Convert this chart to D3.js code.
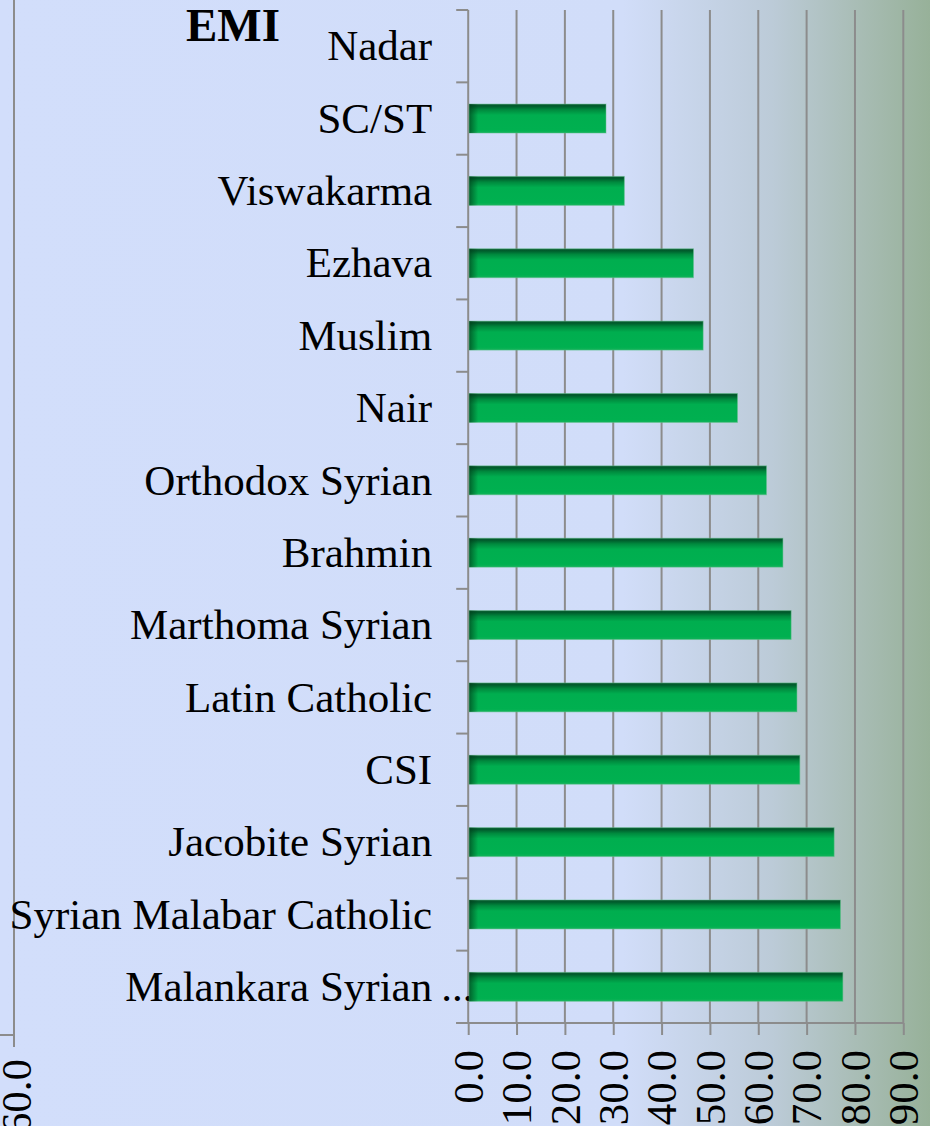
<!DOCTYPE html>
<html><head><meta charset="utf-8">
<script src="https://cdn.jsdelivr.net/npm/d3@7"></script>
<style>html,body{margin:0;padding:0;overflow:hidden;background:#d2defb}svg{display:block}</style>
</head><body>
<script>
const title = "EMI";
const categories = ["Nadar","SC/ST","Viswakarma","Ezhava","Muslim","Nair","Orthodox Syrian","Brahmin","Marthoma Syrian","Latin Catholic","CSI","Jacobite Syrian","Syrian Malabar Catholic","Malankara Syrian..."];
const values = [0, 28.5, 32.3, 46.6, 48.6, 55.7, 61.7, 65.1, 66.8, 68.0, 68.6, 75.7, 77.0, 77.5];
const xTicks = [0,10,20,30,40,50,60,70,80,90];
const leftTickLabels = ["60.0"];

const W = 930, H = 1126;
const FONT = "Liberation Serif";
const FS = "43px";
const svg = d3.select("body").append("svg").attr("width", W).attr("height", H);
const defs = svg.append("defs");

const bg = defs.append("linearGradient").attr("id","bg").attr("x1",0).attr("x2",1).attr("y1",0).attr("y2",0);
[[0,"#d2defb"],[0.67,"#d1ddf9"],[0.83,"#bccbd8"],[0.92,"#a9bdb6"],[1,"#97b199"]].forEach(s=>bg.append("stop").attr("offset",s[0]).attr("stop-color",s[1]));
svg.append("rect").attr("width",W).attr("height",H).attr("fill","url(#bg)");

const bv = defs.append("linearGradient").attr("id","barV").attr("x1",0).attr("x2",0).attr("y1",0).attr("y2",1);
[[0,"#0b5a30"],[0.07,"#005c2c"],[0.2,"#008a3e"],[0.38,"#00ae4f"],[0.9,"#00b050"],[1,"#12b35a"]].forEach(s=>bv.append("stop").attr("offset",s[0]).attr("stop-color",s[1]));

const x = d3.scaleLinear().domain([0,90]).range([468.2,903.3]);
const y = d3.scaleBand().domain(categories).range([10,1023]).padding(0);
const yBottom = y.range()[1];

const bh = defs.append("linearGradient").attr("id","barH").attr("gradientUnits","userSpaceOnUse")
  .attr("x1",x(0)).attr("x2",x(0)+10).attr("y1",0).attr("y2",0);
bh.append("stop").attr("offset",0).attr("stop-color","#003d1a").attr("stop-opacity",0.75);
bh.append("stop").attr("offset",1).attr("stop-color","#003d1a").attr("stop-opacity",0);

// left remnant axis
const gl = svg.append("g");
gl.append("line").attr("x1",14).attr("x2",14).attr("y1",0).attr("y2",1047).attr("stroke","#8c8c8c").attr("stroke-width",2);
gl.append("line").attr("x1",0).attr("x2",14).attr("y1",1035).attr("y2",1035).attr("stroke","#8c8c8c").attr("stroke-width",2);
gl.selectAll("text").data(leftTickLabels).join("text")
  .attr("transform","translate(17,1059) rotate(-90)")
  .attr("dy","0.33em").attr("text-anchor","end")
  .style("font-family",FONT).style("font-size",FS).attr("fill","#000").text(d=>d);

// gridlines
svg.append("g").selectAll("line").data(xTicks.slice(1)).join("line")
  .attr("x1",d=>x(d)).attr("x2",d=>x(d)).attr("y1",y.range()[0]).attr("y2",yBottom)
  .attr("stroke","#8c8c8c").attr("stroke-width",2);

// x axis
const ax = svg.append("g").attr("transform",`translate(0,${yBottom})`)
  .call(d3.axisBottom(x).tickValues(xTicks).tickSize(12).tickFormat(d3.format(".1f")));
ax.select(".domain").remove();
ax.selectAll(".tick line").attr("stroke","#8c8c8c").attr("stroke-width",2);
ax.selectAll(".tick text")
  .attr("x",-27).attr("y",0).attr("dy","0.33em")
  .attr("transform","rotate(-90)").attr("text-anchor","end")
  .style("font-family",FONT).style("font-size",FS).attr("fill","#000");
svg.append("line").attr("x1",x(0)-12).attr("x2",x(90)).attr("y1",yBottom).attr("y2",yBottom)
  .attr("stroke","#8c8c8c").attr("stroke-width",2);

// y axis
const gy = svg.append("g");
gy.append("line").attr("x1",x(0)).attr("x2",x(0)).attr("y1",y.range()[0]).attr("y2",yBottom)
  .attr("stroke","#8c8c8c").attr("stroke-width",2);
const bounds = categories.map(c=>y(c)).concat([yBottom]);
gy.selectAll("line.tk").data(bounds).join("line").attr("class","tk")
  .attr("x1",x(0)-12).attr("x2",x(0)).attr("y1",d=>d).attr("y2",d=>d)
  .attr("stroke","#8c8c8c").attr("stroke-width",2);

const labelX = x(0) - 36;
categories.forEach((c,i)=>{
  const ell = c.endsWith("...");
  const main = ell ? c.slice(0,-3) : c;
  const cy = y(c) + y.bandwidth()/2;
  gy.append("text").attr("x",labelX).attr("y",cy).attr("dy","0.33em").attr("text-anchor","end")
    .style("font-family",FONT).style("font-size",FS).attr("fill","#000").text(main);
  if (ell) {
    gy.append("text").attr("x",labelX+9).attr("y",cy).attr("dy","0.33em").attr("text-anchor","start")
      .style("font-family",FONT).style("font-size",FS).attr("fill","#000").text("...");
  }
});

// bars
const data = categories.map((c,i)=>({c, v: values[i]})).filter(d=>d.v>0);
const bars = svg.append("g");
bars.selectAll("rect.b").data(data).join("rect").attr("class","b")
  .attr("x",x(0)+1).attr("y",d=>y(d.c)+y.bandwidth()*0.3)
  .attr("width",d=>x(d.v)-x(0)-1).attr("height",y.bandwidth()*0.4)
  .attr("fill","url(#barV)").attr("stroke","#5fbf8a").attr("stroke-opacity",0.5).attr("stroke-width",1);
bars.selectAll("rect.s").data(data).join("rect").attr("class","s")
  .attr("x",x(0)+1).attr("y",d=>y(d.c)+y.bandwidth()*0.3)
  .attr("width",d=>Math.min(10,x(d.v)-x(0)-1)).attr("height",y.bandwidth()*0.4)
  .attr("fill","url(#barH)");

// title
svg.append("text").attr("x",186).attr("y",41)
  .style("font-family",FONT).style("font-size","47px").style("font-weight","bold").attr("fill","#000").text(title);
</script>
</body></html>
